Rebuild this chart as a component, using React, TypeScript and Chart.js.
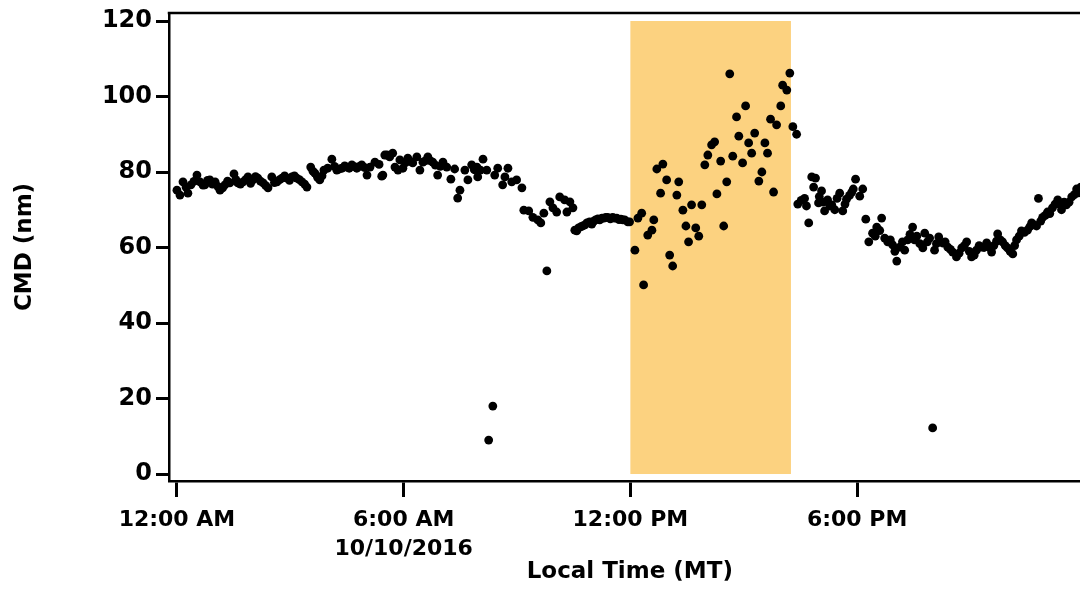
import React, { useEffect, useRef } from "react";
import { Chart, registerables } from "chart.js";

Chart.register(...registerables);

// Local time in hours since midnight (10/10/2016)
const timeHours = [
  0.00, 0.08, 0.16, 0.24, 0.29, 0.37, 0.45, 0.53, 0.61, 0.69, 0.74, 0.81, 0.87, 0.94, 1.01, 1.08, 1.14, 1.21, 1.27, 1.34,
  1.40, 1.51, 1.56, 1.61, 1.68, 1.75, 1.82, 1.88, 1.95, 2.01, 2.08, 2.14, 2.21, 2.28, 2.35, 2.41, 2.51, 2.58, 2.65, 2.72,
  2.78, 2.85, 2.91, 2.98, 3.04, 3.11, 3.17, 3.24, 3.31, 3.38, 3.44, 3.54, 3.60, 3.65, 3.72, 3.78, 3.84, 3.89, 3.99, 4.10,
  4.17, 4.23, 4.30, 4.37, 4.44, 4.50, 4.56, 4.63, 4.70, 4.76, 4.83, 4.89, 4.96, 5.03, 5.11, 5.24, 5.35, 5.42, 5.45, 5.50,
  5.56, 5.63, 5.71, 5.77, 5.85, 5.90, 5.98, 6.05, 6.11, 6.18, 6.24, 6.35, 6.43, 6.51, 6.58, 6.64, 6.70, 6.77, 6.84, 6.90,
  6.97, 7.04, 7.14, 7.25, 7.35, 7.43, 7.49, 7.62, 7.70, 7.80, 7.87, 7.94, 7.96, 8.03, 8.10, 8.20, 8.25, 8.36, 8.41, 8.49,
  8.62, 8.68, 8.76, 8.86, 8.99, 9.13, 9.18, 9.31, 9.42, 9.55, 9.63, 9.71, 9.79, 9.87, 9.95, 10.05, 10.13, 10.26, 10.32, 10.40,
  10.48, 10.53, 10.58, 10.63, 10.69, 10.74, 10.80, 10.85, 10.92, 10.98, 11.03, 11.08, 11.14, 11.19, 11.25, 11.30, 11.35, 11.40, 11.47, 11.53,
  11.58, 11.64, 11.70, 11.75, 11.80, 11.85, 11.93, 11.98, 12.12, 12.20, 12.30, 12.35, 12.46, 12.57, 12.62, 12.70, 12.80, 12.86, 12.96, 13.04,
  13.12, 13.23, 13.28, 13.39, 13.47, 13.54, 13.62, 13.73, 13.81, 13.89, 13.97, 14.05, 14.15, 14.23, 14.29, 14.39, 14.47, 14.55, 14.63, 14.71,
  14.81, 14.87, 14.97, 15.05, 15.13, 15.21, 15.29, 15.40, 15.48, 15.56, 15.63, 15.71, 15.79, 15.87, 15.98, 16.03, 16.14, 16.22, 16.30, 16.40,
  16.43, 16.52, 16.61, 16.66, 16.72, 16.80, 16.85, 16.90, 16.98, 17.00, 17.06, 17.10, 17.14, 17.22, 17.28, 17.33, 17.41, 17.47, 17.54, 17.62,
  17.68, 17.72, 17.80, 17.86, 17.90, 17.96, 18.07, 18.15, 18.23, 18.31, 18.41, 18.48, 18.52, 18.60, 18.65, 18.73, 18.81, 18.88, 18.94, 19.00,
  19.05, 19.13, 19.20, 19.26, 19.34, 19.40, 19.47, 19.52, 19.58, 19.66, 19.74, 19.79, 19.86, 19.92, 20.00, 20.05, 20.10, 20.16, 20.26, 20.33,
  20.40, 20.47, 20.53, 20.63, 20.70, 20.77, 20.84, 20.90, 20.97, 21.03, 21.10, 21.16, 21.23, 21.30, 21.36, 21.43, 21.50, 21.56, 21.62, 21.69,
  21.72, 21.79, 21.85, 21.92, 21.98, 22.05, 22.12, 22.17, 22.22, 22.29, 22.35, 22.43, 22.51, 22.57, 22.62, 22.69, 22.75, 22.80, 22.86, 22.91,
  22.98, 23.04, 23.10, 23.17, 23.24, 23.31, 23.36, 23.41, 23.48, 23.54, 23.61, 23.68, 23.75, 23.81, 23.86, 23.92,
];

// CMD (nm)
const cmdValues = [
  75.2, 73.9, 77.4, 76.0, 74.4, 76.6, 77.5, 79.2, 77.4, 76.5, 76.6, 77.8, 77.9, 76.8, 77.4, 76.2, 75.2, 75.8, 76.6, 77.6,
  77.1, 79.5, 78.0, 77.1, 76.8, 77.4, 78.0, 78.7, 77.0, 77.9, 78.8, 78.4, 77.6, 77.1, 76.4, 75.8, 78.7, 77.2, 77.4, 78.0,
  78.4, 79.0, 78.4, 77.8, 78.7, 79.0, 78.4, 78.0, 77.4, 76.8, 76.0, 81.3, 80.2, 79.7, 78.6, 77.9, 79.0, 80.5, 81.0, 83.4,
  81.5, 80.5, 80.8, 81.0, 81.6, 81.3, 81.0, 81.9, 81.4, 81.0, 81.5, 81.9, 81.2, 79.2, 81.3, 82.6, 82.0, 78.9, 79.2, 84.5,
  84.5, 84.0, 85.0, 81.3, 80.5, 83.2, 81.0, 82.5, 83.7, 82.8, 82.4, 84.0, 80.5, 82.6, 83.0, 84.0, 83.0, 82.6, 81.8, 79.2,
  81.5, 82.6, 81.3, 78.1, 80.8, 73.1, 75.2, 80.5, 77.9, 81.9, 80.6, 81.3, 78.7, 80.5, 83.4, 80.5, 9.0, 18.0, 79.2, 81.0,
  76.6, 78.7, 81.0, 77.4, 77.9, 75.8, 69.9, 69.7, 68.0, 67.3, 66.5, 69.1, 53.8, 72.1, 70.5, 69.4, 73.4, 72.6, 69.4, 72.1,
  70.5, 64.6, 64.4, 65.2, 65.5, 65.7, 66.0, 66.5, 66.8, 66.2, 67.0, 67.3, 67.6, 67.3, 67.8, 67.8, 68.0, 68.0, 67.6, 68.0,
  67.8, 67.8, 67.4, 67.5, 67.3, 67.3, 66.8, 66.8, 59.3, 67.8, 69.1, 50.1, 63.3, 64.6, 67.3, 80.8, 74.4, 82.1, 77.9, 58.0,
  55.1, 73.9, 77.4, 69.9, 65.7, 61.5, 71.3, 65.2, 63.0, 71.3, 81.9, 84.5, 87.2, 88.0, 74.2, 82.9, 65.7, 77.4, 106.0, 84.2,
  94.6, 89.5, 82.4, 97.5, 87.7, 85.0, 90.3, 77.6, 80.0, 87.7, 85.0, 94.0, 74.7, 92.5, 97.5, 103.0, 101.7, 106.2, 92.0, 90.0,
  71.5, 72.5, 73.0, 71.0, 66.5, 78.7, 76.0, 78.4, 71.8, 73.5, 75.0, 72.0, 69.7, 72.6, 71.0, 71.3, 70.0, 73.0, 74.4, 69.7,
  71.5, 72.8, 73.8, 74.7, 75.5, 78.1, 73.6, 75.5, 67.5, 61.5, 63.8, 63.0, 65.4, 64.5, 67.8, 62.5, 61.5, 62.0, 60.7, 59.0,
  56.4, 60.1, 61.5, 59.3, 62.0, 63.5, 65.4, 62.0, 63.0, 61.0, 59.9, 63.8, 61.5, 62.5, 12.2, 59.3, 61.0, 62.8, 61.2, 61.5,
  60.1, 59.5, 58.8, 57.5, 58.5, 59.9, 60.5, 61.5, 59.0, 57.5, 58.0, 59.3, 60.5, 60.1, 60.0, 61.2, 60.0, 58.8, 60.5, 61.7,
  63.6, 62.0, 61.5, 60.5, 59.9, 59.0, 58.3, 60.5, 62.0, 63.0, 64.4, 64.0, 64.6, 65.5, 66.5, 66.0, 65.7, 73.0, 67.0, 68.0,
  68.5, 69.4, 69.0, 70.5, 71.5, 72.6, 71.5, 70.0, 72.0, 71.3, 72.0, 73.4, 74.0, 75.5, 74.5, 76.0,
];

const xTickValues = [0, 6, 12, 18];
const xTickLabels = [["12:00 AM"], ["6:00 AM", "10/10/2016"], ["12:00 PM"], ["6:00 PM"]];
const yTickValues = [0, 20, 40, 60, 80, 100, 120];

// Highlighted period (hours) and its vertical extent (nm)
const shadeStart = 12.0;
const shadeEnd = 16.25;
const shadeLow = 0;
const shadeHigh = 120;

const SHADE_COLOR = "rgb(252, 210, 128)";
const FONT_FAMILY = "'DejaVu Sans', sans-serif";

const framePlugin = {
  id: "frameAndShade",
  beforeDatasetsDraw(chart: any) {
    const { ctx, scales } = chart;
    const x = scales.x;
    const y = scales.y;
    const x0 = x.getPixelForValue(shadeStart);
    const x1 = x.getPixelForValue(shadeEnd);
    const y0 = y.getPixelForValue(shadeHigh);
    const y1 = y.getPixelForValue(shadeLow);
    ctx.save();
    ctx.fillStyle = SHADE_COLOR;
    ctx.fillRect(x0, y0, x1 - x0, y1 - y0);
    ctx.restore();
  },
  afterDraw(chart: any) {
    const { ctx, chartArea } = chart;
    ctx.save();
    ctx.strokeStyle = "#000";
    ctx.lineWidth = 2.5;
    ctx.beginPath();
    ctx.moveTo(chartArea.left - 1.25, chartArea.top);
    ctx.lineTo(chartArea.right, chartArea.top);
    ctx.stroke();
    ctx.restore();
  },
};

export default function App() {
  const canvasRef = useRef<HTMLCanvasElement | null>(null);

  useEffect(() => {
    const canvas = canvasRef.current;
    if (!canvas) return;
    const points = timeHours.map((t, i) => ({ x: t, y: cmdValues[i] }));
    const chart = new Chart(canvas, {
      type: "scatter",
      data: {
        datasets: [
          {
            data: points,
            pointRadius: 4.4,
            pointBackgroundColor: "#000",
            pointBorderWidth: 0,
            showLine: false,
          },
        ],
      },
      options: {
        animation: false,
        responsive: false,
        maintainAspectRatio: false,
        layout: { padding: { top: 13, right: 4, left: 0, bottom: 0 } },
        plugins: {
          legend: { display: false },
          tooltip: { enabled: false },
        },
        scales: {
          x: {
            type: "linear",
            min: -0.21,
            max: 24.18,
            afterBuildTicks: (scale: any) => {
              scale.ticks = xTickValues.map((v) => ({ value: v }));
            },
            afterFit: (scale: any) => {
              scale.height = 109;
              scale.paddingLeft = 0;
              scale.paddingRight = 0;
            },
            ticks: {
              autoSkip: false,
              maxRotation: 0,
              minRotation: 0,
              padding: 9,
              color: "#000",
              font: { family: FONT_FAMILY, weight: "bold", size: 22, lineHeight: 1.3 },
              callback: (value: any) => {
                const idx = xTickValues.indexOf(Number(value));
                return idx >= 0 ? xTickLabels[idx] : "";
              },
            },
            grid: {
              drawOnChartArea: false,
              drawTicks: true,
              tickLength: 16,
              tickWidth: 3,
              tickColor: "#000",
            },
            border: { display: true, color: "#000", width: 2.5 },
            title: {
              display: true,
              text: "Local Time (MT)",
              color: "#000",
              font: { family: FONT_FAMILY, weight: "bold", size: 23 },
              padding: { top: 0, bottom: 4 },
            },
          },
          y: {
            type: "linear",
            min: -1.85,
            max: 122.12,
            afterBuildTicks: (scale: any) => {
              scale.ticks = yTickValues.map((v) => ({ value: v }));
            },
            afterFit: (scale: any) => {
              scale.width = 169;
              scale.paddingTop = 0;
              scale.paddingBottom = 0;
            },
            ticks: {
              padding: 4,
              color: "#000",
              font: { family: FONT_FAMILY, weight: "bold", size: 24 },
            },
            grid: {
              drawOnChartArea: false,
              drawTicks: true,
              tickLength: 13,
              tickWidth: 3,
              tickColor: "#000",
            },
            border: { display: true, color: "#000", width: 2.5 },
            title: {
              display: true,
              text: "CMD (nm)",
              color: "#000",
              font: { family: FONT_FAMILY, weight: "bold", size: 23 },
              padding: { top: 11, bottom: 0 },
            },
          },
        },
      },
      plugins: [framePlugin],
    } as any);
    return () => chart.destroy();
  }, []);

  return (
    <div
      style={{
        position: "fixed",
        left: 0,
        top: 0,
        width: 1080,
        height: 590,
        overflow: "hidden",
        background: "#fff",
      }}
    >
      <canvas
        ref={canvasRef}
        width={1095}
        height={590}
        style={{ display: "block", width: 1095, height: 590 }}
      />
    </div>
  );
}
